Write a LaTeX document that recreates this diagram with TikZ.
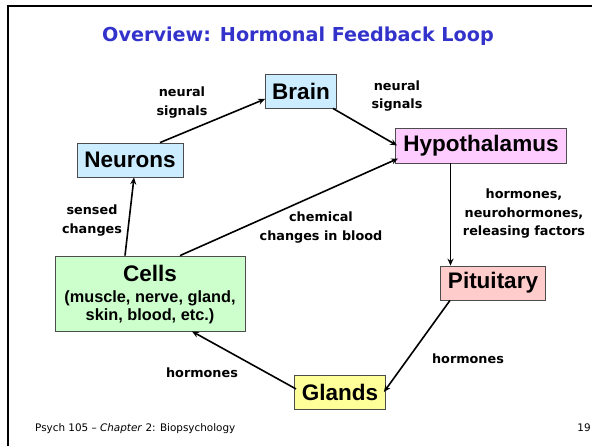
\documentclass[tikz,border=0pt]{standalone}
\usepackage{fontspec}
\setmainfont{Liberation Sans}
\newfontfamily\lblfont{DejaVu Sans}
\usetikzlibrary{arrows.meta}
\definecolor{titleblue}{HTML}{3333CC}
\definecolor{fillblue}{HTML}{CCECFF}
\definecolor{fillpink}{HTML}{FFCCFF}
\definecolor{fillrose}{HTML}{FFCCCC}
\definecolor{fillgreen}{HTML}{CCFFCC}
\definecolor{fillyellow}{HTML}{FFFF99}
\begin{document}
\begin{tikzpicture}[x=1pt,y=-1pt,
  box/.style={draw=black!70, line width=0.8pt, inner sep=0pt,
    font=\fontsize{22.5}{24}\selectfont\bfseries},
  lab/.style={font=\lblfont\bfseries\fontsize{12.8}{18.5}\selectfont, align=center, inner sep=0pt},
  conn/.style={line width=1.6pt, -{Stealth[length=7pt,width=6pt]}}]
\useasboundingbox (0,0) rectangle (592,446);
\fill[white] (0,0) rectangle (592,446);
\draw[line width=2pt] (592,6) -- (8,6) -- (8,446);

% title
\node[font=\lblfont\bfseries\fontsize{19.2}{22}\selectfont, text=titleblue, inner sep=0pt] (title) at (298,36) {Overview: Hormonal Feedback Loop};

% boxes
\node[box, fill=fillblue, minimum width=71pt, minimum height=34pt] (brain) at (301,91) {Brain};
\node[box, fill=fillblue, minimum width=106pt, minimum height=34pt] (neurons) at (130,160) {Neurons};
\node[box, fill=fillpink, minimum width=171pt, minimum height=35pt] (hyp) at (481,145.5) {Hypothalamus};
\node[box, fill=fillrose, minimum width=105pt, minimum height=34pt] (pit) at (493,283) {Pituitary};
\node[box, fill=fillgreen, minimum width=190pt, minimum height=75pt] (cells) at (150,293.5) {};
\node[box, fill=fillyellow, minimum width=91pt, minimum height=34pt] (glands) at (340,392) {Glands};

\node[font=\fontsize{22.5}{24}\selectfont\bfseries, inner sep=0pt] (cellsname) at (150,273) {Cells};
\node[font=\fontsize{16.3}{17}\selectfont\bfseries, inner sep=0pt] (cellsa) at (150,298.5) {(muscle, nerve, gland,};
\node[font=\fontsize{16.3}{17}\selectfont\bfseries, inner sep=0pt] (cellsb) at (150,316) {skin, blood, etc.)};

% labels
\node[lab] (l1) at (182,102.5) {neural\\signals};
\node[lab] (l2) at (397,96) {neural\\signals};
\node[lab] (l3) at (92,220.5) {sensed\\changes};
\node[lab] (l4) at (321,227.5) {chemical\\changes in blood};
\node[lab] (l5) at (524,214) {hormones,\\neurohormones,\\releasing factors};
\node[lab] (l6) at (468,359) {hormones};
\node[lab] (l7) at (202,373) {hormones};

% connectors
\draw[conn] ([xshift=30pt]neurons.north) -- ([yshift=-8pt]brain.west);
\draw[conn] ([xshift=-4pt]brain.south east) -- ([xshift=2pt]hyp.west);
\draw[conn] ([xshift=-25pt]cells.north) -- ([xshift=4pt]neurons.south);
\draw[conn] ([xshift=30pt]cells.north) -- ([xshift=3pt,yshift=-13pt]hyp.west);
\draw[conn] ([xshift=-30.5pt]hyp.south) -- ([xshift=-42.5pt]pit.north);
\draw[conn] ([xshift=-43pt]pit.south) -- ([xshift=-2pt]glands.east);
\draw[conn] ([xshift=2pt,yshift=3pt]glands.west) -- ([xshift=42pt]cells.south);

% footer
\node[font=\lblfont\fontsize{10.4}{12}\selectfont, anchor=west, inner sep=0pt] (footer) at (35,429) {Psych 105 – \textit{Chapter} 2: Biopsychology};
\node[font=\lblfont\fontsize{10.4}{12}\selectfont, inner sep=0pt] (page) at (584,428) {19};
\end{tikzpicture}
\end{document}
